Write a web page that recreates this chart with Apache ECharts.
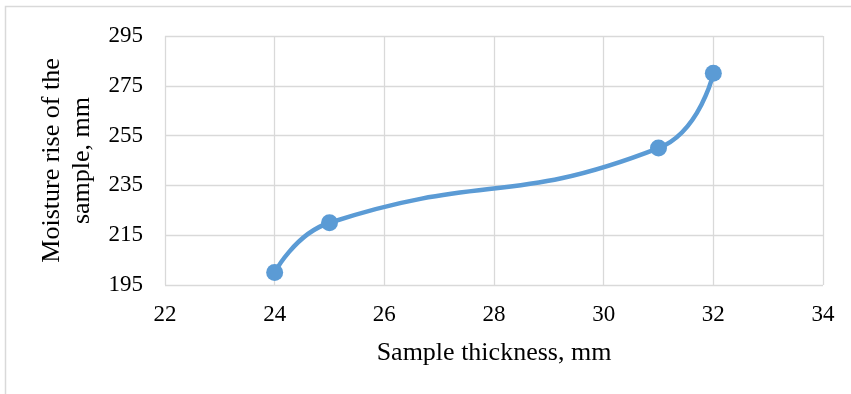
<!DOCTYPE html>
<html>
<head>
<meta charset="utf-8">
<script src="https://cdn.jsdelivr.net/npm/echarts@6/dist/echarts.min.js"></script>
<style>
    body { margin: 0; background: #fff; }
    #chart { width: 851px; height: 394px; }
</style>
</head>
<body>
<div id="chart"></div>
<script>
    // sample thickness (mm) vs moisture rise (mm)
    var thickness = [24, 25, 31, 32];
    var moistureRise = [200, 220, 250, 280];
    var xTicks = [22, 34, 2];
    var yTicks = [195, 295, 20];

    var myChart = echarts.init(document.getElementById('chart'));
    var font = 'Liberation Serif, Times New Roman, serif';
    var option = {
        animation: false,
        backgroundColor: '#fff',
        graphic: [{
            type: 'rect',
            shape: {x: 5.5, y: 6.5, width: 900, height: 500},
            style: {fill: 'none', stroke: '#d9d9d9', lineWidth: 1.5},
            silent: true
        }],
        grid: {left: 165, right: 28, top: 36, bottom: 109},
        xAxis: {
            type: 'value',
            min: xTicks[0], max: xTicks[1], interval: xTicks[2],
            name: 'Sample thickness, mm',
            nameLocation: 'middle',
            nameGap: 55,
            nameTextStyle: {fontFamily: font, fontSize: 26, color: '#000'},
            axisLine: {show: false},
            axisTick: {show: false},
            axisLabel: {fontFamily: font, fontSize: 23, color: '#000', margin: 18},
            splitLine: {show: true, lineStyle: {color: '#d9d9d9', width: 1.3}}
        },
        yAxis: {
            type: 'value',
            min: yTicks[0], max: yTicks[1], interval: yTicks[2],
            name: 'Moisture rise of the\nsample, mm',
            nameLocation: 'middle',
            nameGap: 66,
            nameTextStyle: {fontFamily: font, fontSize: 26, color: '#000', lineHeight: 30},
            axisLine: {show: false},
            axisTick: {show: false},
            axisLabel: {fontFamily: font, fontSize: 23, color: '#000', margin: 22},
            splitLine: {show: true, lineStyle: {color: '#d9d9d9', width: 1.3}}
        },
        series: [{
            type: 'line',
            data: thickness.map(function (x, i) { return [x, moistureRise[i]]; }),
            smooth: 0.5,
            symbol: 'circle',
            symbolSize: 17,
            lineStyle: {color: '#5b9bd5', width: 4.5},
            itemStyle: {color: '#5b9bd5'}
        }]
    };
    myChart.setOption(option);
</script>
</body>
</html>
